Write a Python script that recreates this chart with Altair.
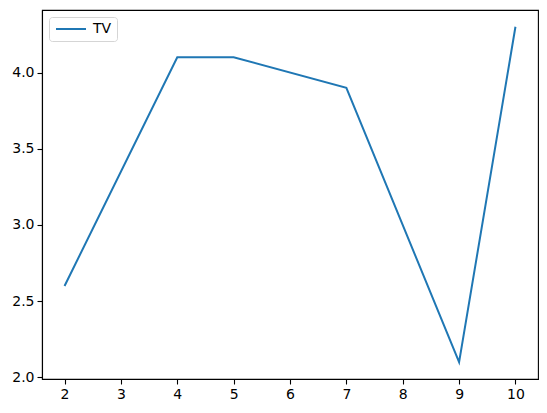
import altair as alt
import pandas as pd

x_vals = [2, 4, 5, 7, 9, 10]
tv_vals = [2.6, 4.1, 4.1, 3.9, 2.1, 4.3]
series_name = "TV"
x_ticks = [2, 3, 4, 5, 6, 7, 8, 9, 10]
y_ticks = [2.0, 2.5, 3.0, 3.5, 4.0]

df = pd.DataFrame({"x": x_vals, "y": tv_vals, "series": [series_name] * len(x_vals)})

chart = alt.Chart(df).mark_line(strokeWidth=2, clip=True).encode(
    x=alt.X("x:Q", scale=alt.Scale(domain=[1.6, 10.4], nice=False, zero=False),
            axis=alt.Axis(values=x_ticks, format="d", title=None)),
    y=alt.Y("y:Q", scale=alt.Scale(domain=[1.99, 4.41], nice=False, zero=False),
            axis=alt.Axis(values=y_ticks, format=".1f", title=None)),
    color=alt.Color("series:N", scale=alt.Scale(range=["#1f77b4"]),
                    legend=alt.Legend(title=None, orient="top-left", offset=7,
                                      symbolType="M-1,0L5,0", symbolSize=100,
                                      symbolStrokeWidth=2, labelFontSize=14,
                                      labelFont="DejaVu Sans", labelColor="black",
                                      padding=5, cornerRadius=3,
                                      strokeColor="#d5d5d5", fillColor="white",
                                      labelOffset=25)),
).properties(
    width=496, height=369,
    autosize=alt.AutoSizeParams(type="none"),
    padding={"left": 34, "top": 2, "right": 1, "bottom": 26},
).configure_view(
    stroke="black", strokeWidth=1.1
).configure_axis(
    grid=False, domainColor="black", domainWidth=1.1, tickColor="black",
    tickWidth=1.1, tickSize=5, labelFontSize=14, labelFont="DejaVu Sans",
    labelColor="black", labelPadding=3
)

chart.save("out.html", embed_options={"renderer": "svg", "actions": False})
